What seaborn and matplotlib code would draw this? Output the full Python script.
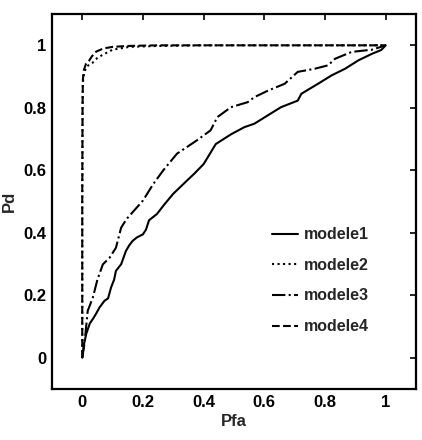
import numpy as np
import pandas as pd
import matplotlib
matplotlib.use("Agg")
import matplotlib.pyplot as plt
import seaborn as sns

# modele1 (solid)
m1_pfa = [0.0, 0.005, 0.013, 0.025, 0.035, 0.045, 0.057, 0.073, 0.085, 0.095, 0.105, 0.111, 0.128,
          0.144, 0.155, 0.166, 0.18, 0.2, 0.21, 0.22, 0.246, 0.27, 0.30, 0.345, 0.37, 0.40, 0.44,
          0.49, 0.534, 0.567, 0.61, 0.655, 0.71, 0.722, 0.777, 0.822, 0.866, 0.91, 0.955, 0.985, 1.0]
m1_pd = [0.0, 0.04, 0.076, 0.11, 0.124, 0.14, 0.161, 0.182, 0.19, 0.225, 0.25, 0.278, 0.299,
         0.342, 0.36, 0.374, 0.385, 0.395, 0.41, 0.44, 0.46, 0.49, 0.525, 0.567, 0.59, 0.62, 0.684,
         0.715, 0.738, 0.749, 0.775, 0.802, 0.823, 0.845, 0.877, 0.904, 0.925, 0.952, 0.973, 0.985, 1.0]

# modele2 (dotted)
m2_pfa = [0.0, 0.0, 0.001, 0.002, 0.006, 0.013, 0.025, 0.035, 0.05, 0.068, 0.1, 0.155, 0.25, 0.4, 0.6, 0.8, 1.0]
m2_pd = [0.0, 0.5, 0.8, 0.88, 0.91, 0.93, 0.94, 0.945, 0.96, 0.97, 0.986, 0.995, 0.998, 1.0, 1.0, 1.0, 1.0]

# modele3 (dash-dot)
m3_pfa = [0.0, 0.007, 0.018, 0.035, 0.05, 0.068, 0.09, 0.111, 0.128, 0.146, 0.2, 0.234, 0.267,
          0.312, 0.378, 0.423, 0.445, 0.49, 0.545, 0.567, 0.612, 0.667, 0.71, 0.766, 0.81, 0.833,
          0.888, 0.955, 1.0]
m3_pd = [0.0, 0.043, 0.15, 0.193, 0.25, 0.299, 0.32, 0.352, 0.416, 0.444, 0.503, 0.556, 0.6,
         0.653, 0.696, 0.728, 0.77, 0.802, 0.818, 0.834, 0.855, 0.877, 0.915, 0.925, 0.936, 0.957,
         0.979, 0.986, 1.0]

# modele4 (dashed)
m4_pfa = [0.0, 0.0, 0.001, 0.002, 0.005, 0.012, 0.022, 0.032, 0.046, 0.07, 0.1, 0.15, 0.25, 0.4, 0.6, 0.8, 1.0]
m4_pd = [0.0, 0.5, 0.8, 0.89, 0.92, 0.94, 0.95, 0.965, 0.98, 0.99, 0.995, 0.998, 1.0, 1.0, 1.0, 1.0, 1.0]

series = [("modele1", m1_pfa, m1_pd, "-"),
          ("modele2", m2_pfa, m2_pd, ":"),
          ("modele3", m3_pfa, m3_pd, "-."),
          ("modele4", m4_pfa, m4_pd, "--")]

sns.set_style("white")
plt.rcParams['font.family'] = ['Liberation Sans', 'DejaVu Sans']

FS = 12
fig = plt.figure(figsize=(4.22, 4.40), dpi=100)
ax = fig.add_axes([0.123, 0.116, 0.863, 0.852])

for name, x, y, ls in series:
    df = pd.DataFrame({"Pfa": x, "Pd": y})
    sns.lineplot(data=df, x="Pfa", y="Pd", ax=ax, color="black", linestyle=ls,
                 linewidth=1.5, estimator=None, sort=False, label=name)

ax.set_xlim(-0.1, 1.1)
ax.set_ylim(-0.1, 1.1)
ticks = [0, 0.2, 0.4, 0.6, 0.8, 1]
labels = ["0", "0.2", "0.4", "0.6", "0.8", "1"]
ax.set_xticks(ticks)
ax.set_xticklabels(labels)
ax.set_yticks(ticks)
ax.set_yticklabels(labels)
ax.tick_params(direction="in", length=4, width=1.2, top=True, right=True,
               labelsize=FS, colors="black", pad=4)
for lab in ax.get_xticklabels() + ax.get_yticklabels():
    lab.set_fontweight("bold")
for s in ax.spines.values():
    s.set_linewidth(1.6)
    s.set_color("black")
ax.set_xlabel("Pfa", fontsize=FS, fontweight="bold", labelpad=3)
ax.set_ylabel("Pd", fontsize=FS, fontweight="bold", labelpad=5)

leg = ax.legend(loc="upper left", bbox_to_anchor=(0.565, 0.47), frameon=False,
                prop={"size": 11.5, "weight": "bold"}, handlelength=1.6,
                handletextpad=0.4, labelspacing=0.98)

fig.savefig("out.png", dpi=100)
